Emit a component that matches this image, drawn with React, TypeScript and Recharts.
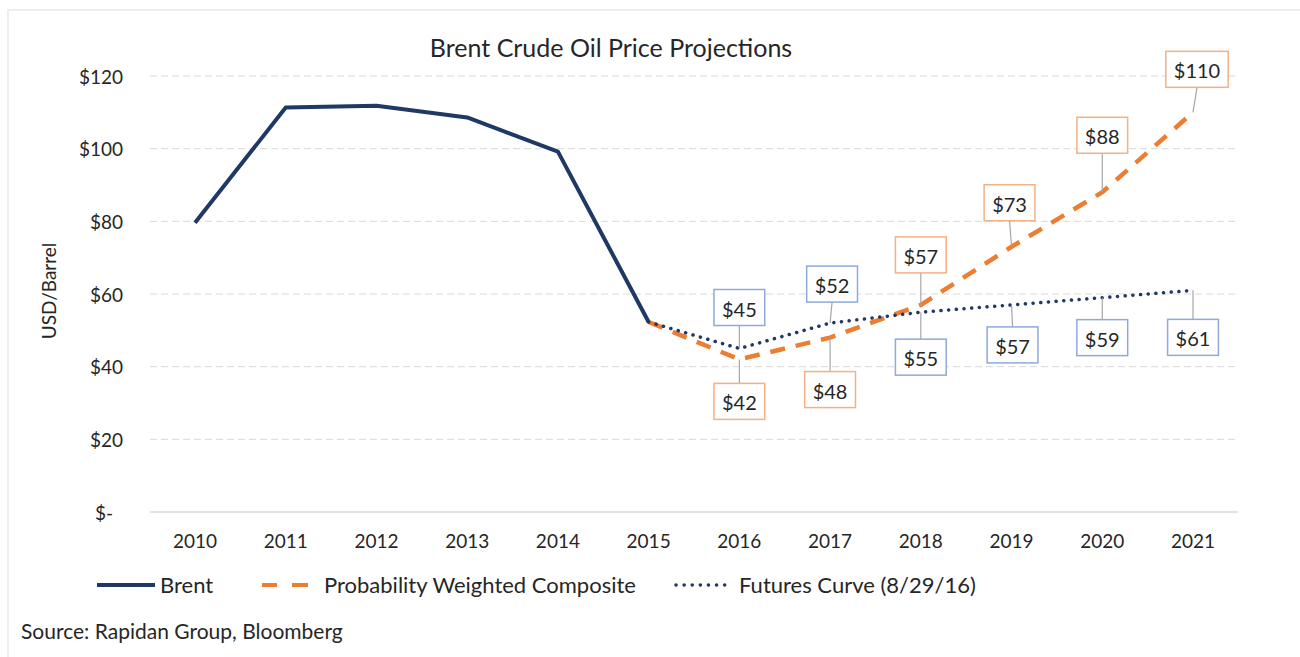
import { LineChart, Line, XAxis, YAxis, CartesianGrid, Legend, LabelList } from 'recharts';

const years = ['2010', '2011', '2012', '2013', '2014', '2015', '2016', '2017', '2018', '2019', '2020', '2021'];
const brent = [79.6, 111.3, 111.8, 108.6, 99.2, 52.3, null, null, null, null, null, null];
const composite = [null, null, null, null, null, 52.3, 42, 48, 57, 73, 88, 110];
const futures = [null, null, null, null, null, 52.3, 45, 52, 55, 57, 59, 61];
const yTicks = [0, 20, 40, 60, 80, 100, 120];

// where each callout box sits, relative to its point (dx, dy of the box centre)
const compositeCallouts: ([number, number] | null)[] = [
  null, null, null, null, null, null, [0, 42], [0, 52], [0, -50], [-2, -44], [0, -57], [4, -43],
];
const futuresCallouts: ([number, number] | null)[] = [
  null, null, null, null, null, null, [0, -41], [2, -39], [0, 45], [1, 40], [0, 40], [0, 47],
];

const data = years.map((year, i) => ({
  year,
  brent: brent[i],
  composite: composite[i],
  futures: futures[i],
}));

const font = 'Lato, "Open Sans", sans-serif';
const textColor = '#262626';
const navy = '#1f3864';
const orange = '#ed7d31';
const grid = '#d9d9d9';

function makeCallout(offsets: ([number, number] | null)[], border: string) {
  return (props: any) => {
    const { value, index } = props;
    const x = props.x ?? props.viewBox?.x;
    const y = props.y ?? props.viewBox?.y;
    const off = offsets[index];
    if (!off || value == null || x == null || y == null) return null;
    const text = `$${Math.round(value)}`;
    const w = text.length * 11.6 + 16;
    const h = 36;
    const cx = x + off[0];
    const cy = y + off[1];
    const edgeY = off[1] < 0 ? cy + h / 2 : cy - h / 2;
    return (
      <g>
        <line x1={x} y1={y} x2={cx} y2={edgeY} stroke="#a6a6a6" strokeWidth={1.2} />
        <rect x={cx - w / 2} y={cy - h / 2} width={w} height={h} fill="#fff" stroke={border} strokeWidth={1.5} />
        <text
          x={cx}
          y={cy + 1}
          textAnchor="middle"
          dominantBaseline="central"
          fill={textColor}
          fontSize={20}
          fontFamily={font}
        >
          {text}
        </text>
      </g>
    );
  };
}

const YTick = (props: any) => {
  const { x, y, payload } = props;
  const v = payload.value;
  return (
    <text
      x={v === 0 ? x - 10 : x}
      y={y}
      textAnchor="end"
      dominantBaseline="central"
      fill={textColor}
      fontSize={19}
      fontFamily={font}
    >
      {v === 0 ? '$-' : `$${v}`}
    </text>
  );
};

const renderLegend = () => (
  <div style={{ position: 'relative', width: 1300, height: 26, fontFamily: font, fontSize: 22, color: textColor }}>
    <svg style={{ position: 'absolute', left: 97, top: 10 }} width={58} height={6}>
      <line x1={0} y1={3} x2={58} y2={3} stroke={navy} strokeWidth={4} />
    </svg>
    <span style={{ position: 'absolute', left: 160, top: 0, lineHeight: '26px' }}>Brent</span>
    <svg style={{ position: 'absolute', left: 262, top: 10 }} width={48} height={6}>
      <line x1={0} y1={3} x2={15} y2={3} stroke={orange} strokeWidth={4} />
      <line x1={30} y1={3} x2={46} y2={3} stroke={orange} strokeWidth={4} />
    </svg>
    <span style={{ position: 'absolute', left: 324, top: 0, lineHeight: '26px' }}>Probability Weighted Composite</span>
    <svg style={{ position: 'absolute', left: 674, top: 9 }} width={60} height={8}>
      <line x1={2} y1={4} x2={58} y2={4} stroke={navy} strokeWidth={3.5} strokeDasharray="0.1 8" strokeLinecap="round" />
    </svg>
    <span style={{ position: 'absolute', left: 739, top: 0, lineHeight: '26px' }}>Futures Curve (8/29/16)</span>
  </div>
);

export default function App() {
  return (
    <div style={{ position: 'absolute', left: 0, top: 0, width: 1300, height: 657, background: '#fff', overflow: 'hidden' }}>
      <div
        style={{
          position: 'absolute',
          left: 7,
          top: 9,
          width: 1293,
          height: 648,
          borderLeft: '2px solid #eeeeee',
          borderTop: '2px solid #eeeeee',
        }}
      />
      <div
        style={{
          position: 'absolute',
          left: 0,
          width: 1222,
          top: 31,
          textAlign: 'center',
          fontFamily: font,
          fontSize: 25,
          color: textColor,
          lineHeight: '32px',
        }}
      >
        Brent Crude Oil Price Projections
      </div>
      <div
        style={{
          position: 'absolute',
          left: 48,
          top: 291,
          transform: 'translate(-50%, -50%) rotate(-90deg)',
          fontFamily: font,
          fontSize: 19,
          color: textColor,
          whiteSpace: 'nowrap',
        }}
      >
        USD/Barrel
      </div>
      <div
        style={{
          position: 'absolute',
          left: 21,
          top: 618,
          fontFamily: font,
          fontSize: 21,
          color: textColor,
          lineHeight: '26px',
        }}
      >
        Source: Rapidan Group, Bloomberg
      </div>
      <div style={{ position: 'absolute', left: 0, top: 0 }}>
        <LineChart width={1300} height={657} data={data} margin={{ top: 76, right: 62, bottom: 115, left: 50 }}>
          <CartesianGrid vertical={false} stroke={grid} strokeDasharray="7 4" horizontalValues={[20, 40, 60, 80, 100, 120]} />
          <XAxis
            dataKey="year"
            axisLine={{ stroke: grid, strokeWidth: 1.5 }}
            tickLine={false}
            tickSize={0}
            tickMargin={23}
            height={30}
            padding={{ left: 45, right: 45 }}
            tick={{ fill: textColor, fontSize: 19, fontFamily: font }}
            interval={0}
          />
          <YAxis
            domain={[0, 120]}
            ticks={yTicks}
            width={100}
            axisLine={false}
            tickLine={false}
            tickSize={0}
            tickMargin={27}
            tick={<YTick />}
          />
          <Legend
            layout="horizontal"
            verticalAlign="middle"
            align="center"
            wrapperStyle={{ top: 572, left: 0, width: 1300 }}
            content={renderLegend}
          />
          <Line
            dataKey="brent"
            name="Brent"
            stroke={navy}
            strokeWidth={4}
            dot={false}
            activeDot={false}
            isAnimationActive={false}
            strokeLinejoin="round"
          />
          <Line
            dataKey="composite"
            name="Probability Weighted Composite"
            stroke={orange}
            strokeWidth={4.5}
            strokeDasharray="15 11"
            dot={false}
            activeDot={false}
            isAnimationActive={false}
          >
            <LabelList dataKey="composite" content={makeCallout(compositeCallouts, '#f4b183')} />
          </Line>
          <Line
            dataKey="futures"
            name="Futures Curve (8/29/16)"
            stroke={navy}
            strokeWidth={3.5}
            strokeDasharray="0.1 7.6"
            strokeLinecap="round"
            dot={false}
            activeDot={false}
            isAnimationActive={false}
          >
            <LabelList dataKey="futures" content={makeCallout(futuresCallouts, '#8eaadb')} />
          </Line>
        </LineChart>
      </div>
    </div>
  );
}
